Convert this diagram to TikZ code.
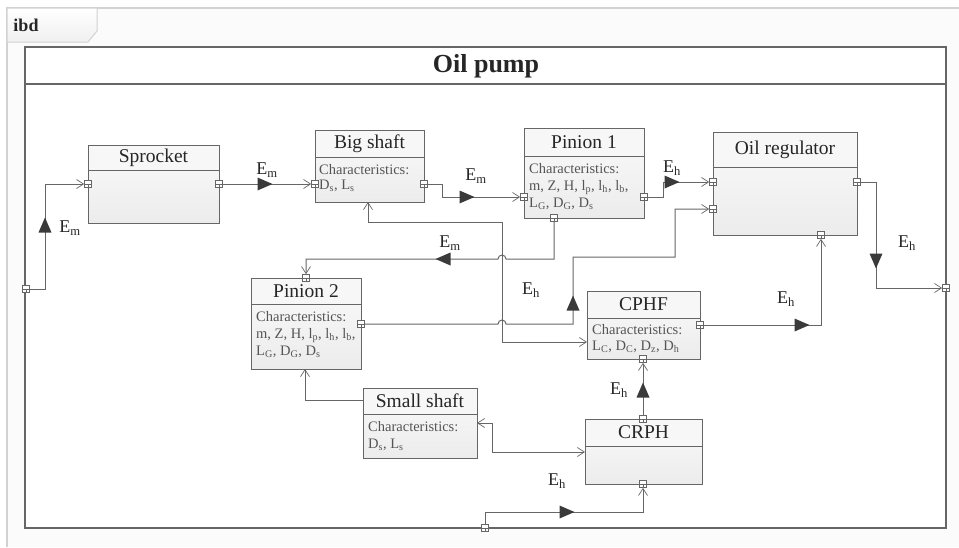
\documentclass[tikz,border=0pt]{standalone}
\usepackage{fontspec}
\setmainfont{Liberation Serif}
\usetikzlibrary{arrows.meta,calc}
\definecolor{ln}{HTML}{666666}
\definecolor{tx}{HTML}{262626}
\definecolor{ctx}{HTML}{555555}
\definecolor{trifill}{HTML}{3A3A3A}
\definecolor{frame}{HTML}{D2D2D2}
\tikzset{
  conn/.style={draw=ln, line width=1pt, line join=miter},
  oa/.style={-{Straight Barb[length=7pt,width=9pt,line width=0.7pt]}},
  oab/.style={{Straight Barb[length=7pt,width=9pt,line width=0.7pt]}-{Straight Barb[length=7pt,width=9pt,line width=0.7pt]}},
  port/.style={draw=ln, fill=white, minimum size=7pt, inner sep=0pt, line width=0.7pt,
    path picture={\draw[ln,line width=0.5pt] (path picture bounding box.west) -- (path picture bounding box.east);
                  \draw[ln,line width=0.5pt] (path picture bounding box.center) -- (path picture bounding box.south);}},
  blkshade/.style={inner sep=0pt, anchor=north west, top color=gray!4, bottom color=gray!15, draw=none},
  titlefill/.style={fill=gray!6},
  boxline/.style={draw=ln, line width=1pt},
  titletext/.style={text=tx, font=\fontsize{19.5}{22}\selectfont, inner sep=0pt},
  chartext/.style={text=ctx, font=\fontsize{14.5}{17}\selectfont, align=left, anchor=north west, inner sep=0pt},
  lbl/.style={text=tx, font=\fontsize{18}{20}\selectfont, inner sep=0pt},
}
\newcommand\ublock[7]{%
  \pgfmathsetmacro\bw{#4-#2}\pgfmathsetmacro\bh{#5-#3}%
  \node[blkshade, minimum width=\bw pt, minimum height=\bh pt] (#1) at (#2,#3) {};
  \fill[titlefill] (#2,#3) rectangle (#4,#6);
  \draw[boxline] (#2,#3) rectangle (#4,#5) (#2,#6) -- (#4,#6);
  \node[titletext] (#1-t) at ({(#2+#4)/2},{(#3+#6)/2}) {#7};
}
\newcommand\flowtri[3]{%
  \fill[trifill, shift={(#1,#2)}, rotate=#3] (7.5pt,0pt) -- (-7.5pt,6.5pt) -- (-7.5pt,-6.5pt) -- cycle;
}
\begin{document}
\begin{tikzpicture}[x=1pt,y=-1pt]
\useasboundingbox (0,0) rectangle (959,547);
\fill[white] (0,0) rectangle (959,547);
% outer frame
\fill[gray!3] (7,8) rectangle (959,547);
\draw[frame, line width=1.4pt] (959,8) -- (7,8) -- (7,547);
% ibd tab
\shade[top color=white, bottom color=gray!12, draw=frame, line width=1pt]
  (7,8) -- (97,8) -- (97,31) -- (88,42) -- (7,42) -- cycle;
\node[text=tx, font=\fontsize{18}{20}\selectfont\bfseries, inner sep=0pt] (ibd) at (26,25) {ibd};
% main block
\fill[white] (25,47) rectangle (946,528);
\draw[draw=ln, line width=1.3pt] (25,47) rectangle (946,528) (25,84) -- (946,84);
\node[text=black!85, font=\fontsize{26}{30}\selectfont\bfseries, inner sep=0pt] (op) at (486,66) {Oil pump};

% blocks
\ublock{spr}{88}{145}{219}{223}{170}{Sprocket}
\ublock{bs}{315}{130}{424}{202}{157}{Big shaft}
\ublock{pa}{524}{128}{644}{218}{156}{Pinion 1}
\ublock{orr}{713}{132}{857}{235}{167}{Oil regulator}
\ublock{pb}{251}{278}{361}{369}{304}{Pinion 2}
\ublock{cphf}{587}{291}{700}{359}{318}{CPHF}
\ublock{ss}{363}{388}{477}{458}{414}{Small shaft}
\ublock{crph}{585}{419}{702}{484}{446}{CRPH}

% characteristics
\node[chartext] (bs-c) at (319,164) {Characteristics:\\[-2pt]D\textsubscript{s}, L\textsubscript{s}};
\node[chartext] (pa-c) at (529,163) {Characteristics:\\m, Z, H, l\textsubscript{p}, l\textsubscript{h}, l\textsubscript{b},\\L\textsubscript{G}, D\textsubscript{G}, D\textsubscript{s}};
\node[chartext] (pb-c) at (256,311) {Characteristics:\\m, Z, H, l\textsubscript{p}, l\textsubscript{h}, l\textsubscript{b},\\L\textsubscript{G}, D\textsubscript{G}, D\textsubscript{s}};
\node[chartext] (cphf-c) at (592,324) {Characteristics:\\[-1pt]L\textsubscript{C}, D\textsubscript{C}, D\textsubscript{z}, D\textsubscript{h}};
\node[chartext] (ss-c) at (368,421) {Characteristics:\\D\textsubscript{s}, L\textsubscript{s}};

% ports
\node[port] (pL) at (26,289) {};
\node[port] (pR) at (946,288) {};
\node[port] (pB) at (485,528) {};
\node[port] (sprL) at (88,184) {};
\node[port] (sprR) at (219,184) {};
\node[port] (bsL) at (315,184) {};
\node[port] (bsR) at (424,184) {};
\node[port] (paL) at (524,197) {};
\node[port] (paR) at (644,197) {};
\node[port] (paB) at (554,218) {};
\node[port] (orL1) at (713,182) {};
\node[port] (orL2) at (713,209) {};
\node[port] (orR) at (857,182) {};
\node[port] (orB) at (821,235) {};
\node[port] (pbT) at (306,278) {};
\node[port] (pbR) at (361,324) {};
\node[port] (cphfR) at (700,325) {};
\node[port] (cphfB) at (643,359) {};
\node[port] (crphT) at (643,419) {};
\node[port] (crphB) at (643,484) {};

% connection points on block edges (no port)
\coordinate (bsb) at (368,202);
\coordinate (cphfl) at (587,342);
\coordinate (ssl) at (363,400);
\coordinate (pbb) at (305,369);
\coordinate (ssr) at (477,423);
\coordinate (crphl) at (585,452);

% connectors
\draw[conn,oa] (pL) -- (45,289) -- (45,184) -- (sprL);
\draw[conn,oa] (sprR) -- (bsL);
\draw[conn,oa] (bsR) -- (442,184) -- (442,197) -- (paL);
\draw[conn,oa] (paB) -- (554,259) -- (506,259) arc[start angle=0,end angle=180,radius=4pt] -- (306,259) -- (pbT);
\draw[conn,oab] (bsb) -- (368,222) -- (502,222) -- (502,342) -- (cphfl);
\draw[conn,oa] (pbR) -- (498,324) arc[start angle=180,end angle=0,radius=4pt] -- (573,324) -- (573,257) -- (675,257) -- (675,209) -- (orL2);
\draw[conn,oa] (paR) -- (663,197) -- (663,182) -- (orL1);
\draw[conn,oa] (orR) -- (876,182) -- (876,288) -- (pR);
\draw[conn,oa] (cphfR) -- (821,325) -- (orB);
\draw[conn,oa] (crphT) -- (cphfB);
\draw[conn,oa] (ssl) -- (305,400) -- (pbb);
\draw[conn,oab] (ssr) -- (492,423) -- (492,452) -- (crphl);
\draw[conn,oa] (pB) -- (485,512) -- (643,512) -- (crphB);

% flow triangles
\flowtri{45}{225}{90}
\flowtri{265}{184}{0}
\flowtri{467}{197}{0}
\flowtri{443}{259}{180}
\flowtri{573}{303}{90}
\flowtri{672}{182}{0}
\flowtri{876}{261}{270}
\flowtri{802}{325}{0}
\flowtri{643}{390}{90}
\flowtri{567}{512}{0}

% labels
\node[lbl] (l1) at (70,228) {E\textsubscript{m}};
\node[lbl] (l2) at (267,170) {E\textsubscript{m}};
\node[lbl] (l3) at (476,176) {E\textsubscript{m}};
\node[lbl] (l4) at (450,243) {E\textsubscript{m}};
\node[lbl] (l5) at (531,290) {E\textsubscript{h}};
\node[lbl] (l6) at (672,168) {E\textsubscript{h}};
\node[lbl] (l7) at (907,243) {E\textsubscript{h}};
\node[lbl] (l8) at (786,299) {E\textsubscript{h}};
\node[lbl] (l9) at (619,390) {E\textsubscript{h}};
\node[lbl] (l10) at (557,481) {E\textsubscript{h}};
\end{tikzpicture}
\end{document}
